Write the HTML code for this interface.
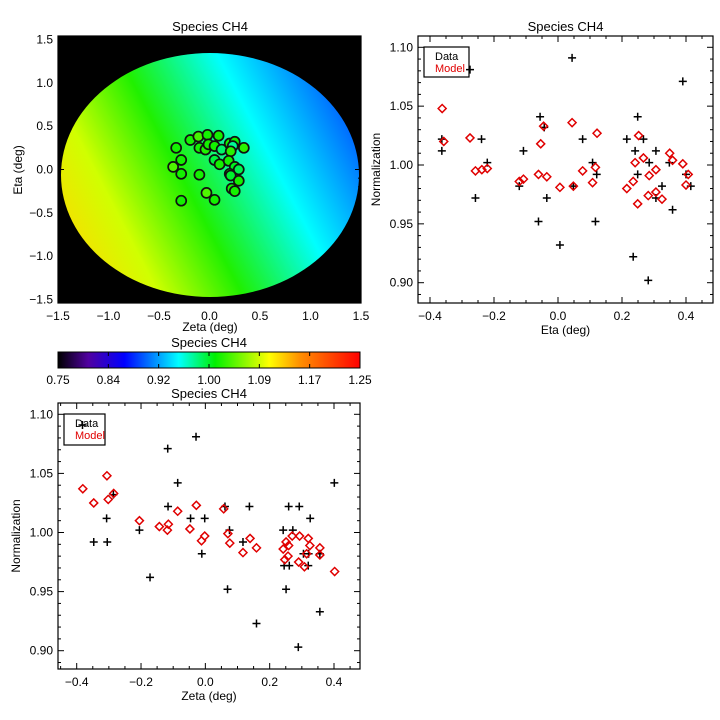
<!DOCTYPE html>
<html><head><meta charset="utf-8"><style>
html,body{margin:0;padding:0;background:#fff;}
svg{display:block;font-family:"Liberation Sans",sans-serif;}
</style></head><body>
<svg id="fig" width="720" height="720" viewBox="0 0 720 720">
<defs>
<linearGradient id="mapgrad" gradientUnits="userSpaceOnUse" x1="60" y1="250" x2="360" y2="95">
<stop offset="0" stop-color="#ffd800"/>
<stop offset="0.2" stop-color="#d0ff00"/>
<stop offset="0.42" stop-color="#20f000"/>
<stop offset="0.68" stop-color="#00ffff"/>
<stop offset="1" stop-color="#0040ff"/>
</linearGradient>
<linearGradient id="cbgrad" x1="0" y1="0" x2="1" y2="0">
<stop offset="0" stop-color="#000000"/>
<stop offset="0.1" stop-color="#5000a0"/>
<stop offset="0.22" stop-color="#0000ff"/>
<stop offset="0.4" stop-color="#00ffff"/>
<stop offset="0.52" stop-color="#00f000"/>
<stop offset="0.7" stop-color="#ffff00"/>
<stop offset="0.8" stop-color="#ff9000"/>
<stop offset="1" stop-color="#ff0000"/>
</linearGradient>
</defs>
</svg>
<script>
// ---- data ----
const mapZeta = [-0.19,-0.11,-0.02,0.09,-0.10,-0.04,-0.01,0.05,0.12,0.20,0.25,0.23,0.21,0.34,-0.33,-0.28,-0.36,-0.28,-0.10,0.05,0.10,0.19,0.25,0.29,0.20,0.21,0.29,0.22,0.25,-0.03,0.05,-0.28];
const mapEta = [0.34,0.38,0.40,0.39,0.25,0.23,0.29,0.27,0.23,0.30,0.32,0.27,0.21,0.25,0.25,0.11,0.03,-0.05,-0.06,0.11,0.06,0.10,0.03,0.00,-0.05,-0.07,-0.13,-0.22,-0.25,-0.27,-0.35,-0.36];
const mapVal = [1.02,1.07,1.02,1.02,1.02,1.03,1.02,1.02,0.93,1.02,1.01,0.90,1.04,1.04,1.02,1.02,1.08,1.02,1.02,0.96,1.02,1.02,0.98,0.95,1.02,0.97,1.02,1.02,1.02,1.08,1.02,1.02];
const etaCrossX = [-0.275,0.044,0.390,-0.056,0.249,-0.043,-0.363,-0.239,0.077,0.215,0.267,-0.363,-0.108,0.241,0.306,-0.221,0.108,0.285,0.348,0.121,0.249,0.400,-0.121,0.048,0.325,0.415,-0.258,-0.035,0.306,0.358,-0.061,0.117,0.006,0.235,0.282];
const etaCrossY = [1.081,1.091,1.071,1.041,1.041,1.032,1.022,1.022,1.022,1.022,1.022,1.012,1.012,1.012,1.012,1.002,1.002,1.002,1.002,0.992,0.992,0.992,0.982,0.982,0.982,0.982,0.972,0.972,0.972,0.962,0.952,0.952,0.932,0.922,0.902];
const etaDiaX = [-0.362,-0.357,-0.275,-0.258,-0.238,-0.221,-0.121,-0.108,-0.061,-0.054,-0.045,-0.035,0.006,0.044,0.048,0.077,0.108,0.117,0.122,0.215,0.235,0.241,0.249,0.252,0.267,0.282,0.285,0.306,0.306,0.325,0.349,0.358,0.390,0.400,0.407];
const etaDiaY = [1.048,1.020,1.023,0.995,0.996,0.997,0.986,0.988,0.992,1.018,1.033,0.990,0.981,1.036,0.982,0.995,0.985,0.998,1.027,0.980,0.986,1.002,0.967,1.025,1.006,0.974,0.991,0.996,0.977,0.971,1.010,1.004,1.001,0.983,0.992];
const zetaCrossX = [-0.382,-0.029,-0.117,-0.086,0.401,-0.286,-0.307,-0.116,0.061,0.137,0.259,0.292,-0.046,-0.002,0.326,-0.205,0.075,0.242,0.272,-0.347,-0.305,0.117,-0.011,0.305,0.321,0.356,0.245,0.261,0.320,-0.172,0.069,0.251,0.356,0.159,0.289];
const zetaCrossY = [1.091,1.081,1.071,1.042,1.042,1.032,1.012,1.022,1.022,1.022,1.022,1.022,1.012,1.012,1.012,1.002,1.002,1.002,1.002,0.992,0.992,0.992,0.982,0.982,0.982,0.982,0.972,0.972,0.972,0.962,0.952,0.952,0.933,0.923,0.903];
const zetaDiaX = [-0.381,-0.347,-0.306,-0.302,-0.285,-0.205,-0.143,-0.115,-0.118,-0.086,-0.048,-0.028,-0.012,-0.002,0.057,0.070,0.076,0.117,0.139,0.159,0.242,0.247,0.251,0.257,0.259,0.270,0.293,0.290,0.308,0.320,0.325,0.315,0.356,0.356,0.402];
const zetaDiaY = [1.037,1.025,1.048,1.028,1.033,1.010,1.005,1.007,1.002,1.018,1.003,1.023,0.993,0.997,1.020,0.999,0.991,0.983,0.995,0.987,0.986,0.977,0.992,0.980,0.989,0.997,0.997,0.975,0.971,0.995,0.989,0.982,0.987,0.981,0.967];
const cbTicks = ["0.75","0.84","0.92","1.00","1.09","1.17","1.25"];
const mapTicks = [-1.5,-1.0,-0.5,0.0,0.5,1.0,1.5];
const scTicksX = [-0.4,-0.2,0.0,0.2,0.4];
const scTicksY = [0.90,0.95,1.00,1.05,1.10];

const NS = "http://www.w3.org/2000/svg";
const svg = document.getElementById('fig');
function mk(tag, attrs, parent, txt){
  const e = document.createElementNS(NS, tag);
  for (const k in attrs) e.setAttribute(k, attrs[k]);
  if (txt !== undefined) e.textContent = txt;
  (parent || svg).appendChild(e);
  return e;
}
function lin(d0,d1,r0,r1){ return v => r0 + (v-d0)*(r1-r0)/(d1-d0); }
function rainbow(v){
  const t = Math.max(0,Math.min(1,(v-0.75)/0.5));
  const st=[[0,[0,0,0]],[0.1,[80,0,160]],[0.22,[0,0,255]],[0.4,[0,255,255]],[0.52,[0,240,0]],[0.7,[255,255,0]],[0.8,[255,144,0]],[1,[255,0,0]]];
  for(let i=1;i<st.length;i++){ if(t<=st[i][0]){ const a=st[i-1],b=st[i]; const f=(t-a[0])/(b[0]-a[0]);
    const c=a[1].map((x,j)=>Math.round(x+(b[1][j]-x)*f)); return `rgb(${c[0]},${c[1]},${c[2]})`; } }
  return 'rgb(255,0,0)';
}

function axes(g, box, sx, sy, xr, yr, xMaj, xMin, yMaj, yMin, xLabs, yLabs, fmtX, fmtY){
  mk('rect',{x:box.x0,y:box.y0,width:box.x1-box.x0,height:box.y1-box.y0,fill:'none',stroke:'#000','stroke-width':1.2},g);
  const eps=1e-9;
  for(let v=Math.ceil(xr[0]/xMin-eps)*xMin; v<=xr[1]+eps; v+=xMin){
    const isM = Math.abs(v/xMaj-Math.round(v/xMaj))<1e-6; const L=isM?6:3; const x=sx(v);
    mk('line',{x1:x,x2:x,y1:box.y1,y2:box.y1-L,stroke:'#000','stroke-width':1},g);
    mk('line',{x1:x,x2:x,y1:box.y0,y2:box.y0+L,stroke:'#000','stroke-width':1},g);
  }
  for(let v=Math.ceil(yr[0]/yMin-eps)*yMin; v<=yr[1]+eps; v+=yMin){
    const isM = Math.abs(v/yMaj-Math.round(v/yMaj))<1e-6; const L=isM?6:3; const y=sy(v);
    mk('line',{x1:box.x0,x2:box.x0+L,y1:y,y2:y,stroke:'#000','stroke-width':1},g);
    mk('line',{x1:box.x1,x2:box.x1-L,y1:y,y2:y,stroke:'#000','stroke-width':1},g);
  }
  xLabs.forEach(v=>{ const t=mk('text',{x:sx(v),y:box.y1+17,'font-size':12,'text-anchor':'middle'},g,fmtX(v));
      });
  yLabs.forEach(v=>{ const t=mk('text',{x:box.x0-5,y:sy(v)+4,'font-size':12,'text-anchor':'end'},g,fmtY(v));
      });
}
const fmt1 = v => (v<0?'\u2212':'')+Math.abs(v).toFixed(1);
const fmt2 = v => v.toFixed(2);

// ---- map panel ----
const gMap = mk('g',{});


const mbox={x0:58,x1:361,y0:36,y1:303};
const mx = lin(-1.5,1.5,58,361), my = lin(-1.5,1.5,299.5,39.5);
mk('rect',{x:58,y:36,width:303,height:267,fill:'#000'},gMap);
const disc = mk('ellipse',{cx:210,cy:175,rx:149,ry:122,fill:'url(#mapgrad)'},gMap);


mapZeta.forEach((z,i)=>{
  const c = mk('circle',{cx:mx(z),cy:my(mapEta[i]),r:5,fill:rainbow(mapVal[i]*0.35+0.66),stroke:'#111','stroke-width':1.7},gMap);
  
  
});
axes(gMap,mbox,mx,my,[-1.5,1.5],[-1.5,1.5],0.5,0.1,0.5,0.1,mapTicks,mapTicks,fmt1,fmt1);
let t;
t=mk('text',{x:210,y:31,'font-size':13,'text-anchor':'middle'},gMap,'Species CH4');
 
t=mk('text',{x:210,y:331,'font-size':12,'text-anchor':'middle'},gMap,'Zeta (deg)');
 
t=mk('text',{x:22,y:170,'font-size':12,'text-anchor':'middle',transform:'rotate(-90 22 170)'},gMap,'Eta (deg)');
 

// ---- colorbar ----
const gCb = mk('g',{});


mk('rect',{x:58,y:352,width:302,height:16,fill:'url(#cbgrad)',stroke:'#000','stroke-width':1},gCb);
t=mk('text',{x:209,y:347,'font-size':13,'text-anchor':'middle'},gCb,'Species CH4');
 
cbTicks.forEach((s,i)=>{
  const x = 58 + i*302/(cbTicks.length-1);
  mk('line',{x1:x,x2:x,y1:368,y2:364,stroke:'#000'},gCb);
  mk('line',{x1:x,x2:x,y1:352,y2:356,stroke:'#000'},gCb);
  const tt = mk('text',{x:x,y:384,'font-size':12,'text-anchor':'middle'},gCb,s);
   
});

// ---- scatter panels ----
function scatter(name, box, xr, xs, ys, dx, dy, title, xtitle, leg){
  const g = mk('g',{});
  
  
  const sx = lin(xr[0],xr[1],xr[2],xr[3]), sy = lin(0.90,1.10,box.yb,box.yt);
  const yLo = 0.90 - (box.y1-box.yb)/((box.yb-box.yt)/0.2), yHi = 1.10 + (box.yt-box.y0)/((box.yb-box.yt)/0.2);
  const xLo = xr[0] - (xr[2]-box.x0)/((xr[3]-xr[2])/(xr[1]-xr[0])), xHi = xr[1] + (box.x1-xr[3])/((xr[3]-xr[2])/(xr[1]-xr[0]));
  xs.forEach((x,i)=>{
    const px=sx(x), py=sy(ys[i]);
    const p = mk('path',{d:`M${px-4},${py}H${px+4}M${px},${py-4}V${py+4}`,stroke:'#000','stroke-width':1.5,fill:'none'},g);
    
    
  });
  dx.forEach((x,i)=>{
    const px=sx(x), py=sy(dy[i]);
    const p = mk('path',{d:`M${px-4},${py}L${px},${py-4}L${px+4},${py}L${px},${py+4}Z`,stroke:'#e00000','stroke-width':1.5,fill:'none'},g);
    
    
  });
  axes(g,box,sx,sy,[xLo,xHi],[yLo,yHi],0.2,0.05,0.05,0.01,scTicksX,scTicksY,fmt1,fmt2);
  let tt=mk('text',{x:(box.x0+box.x1)/2,y:box.y0-5,'font-size':13,'text-anchor':'middle'},g,title);
   
  tt=mk('text',{x:(box.x0+box.x1)/2,y:box.y1+31,'font-size':12,'text-anchor':'middle'},g,xtitle);
   
  const yc=(box.y0+box.y1)/2, xl=box.x0-38;
  tt=mk('text',{x:xl,y:yc,'font-size':12,'text-anchor':'middle',transform:`rotate(-90 ${xl} ${yc})`},g,'Normalization');
   
  const lg = mk('g',{},g);
  
  
  mk('rect',{x:leg[0],y:leg[1],width:leg[2],height:leg[3],fill:'none',stroke:'#000','stroke-width':1.2},lg);
  tt=mk('text',{x:leg[0]+11,y:leg[1]+13,'font-size':11},lg,'Data');
   
  tt=mk('text',{x:leg[0]+11,y:leg[1]+25,'font-size':11,fill:'#e00000'},lg,'Model');
   
}
scatter('eta-scatter-panel',{x0:418,x1:713,y0:36,y1:303,yt:47.3,yb:282.7},[-0.4,0.4,430,686],
  etaCrossX,etaCrossY,etaDiaX,etaDiaY,'Species CH4','Eta (deg)',[424,47,45,30]);
scatter('zeta-scatter-panel',{x0:58,x1:360,y0:403,y1:669,yt:414.3,yb:650.7},[-0.4,0.4,76.7,334],
  zetaCrossX,zetaCrossY,zetaDiaX,zetaDiaY,'Species CH4','Zeta (deg)',[64,414,41,31]);
</script>
</body></html>
